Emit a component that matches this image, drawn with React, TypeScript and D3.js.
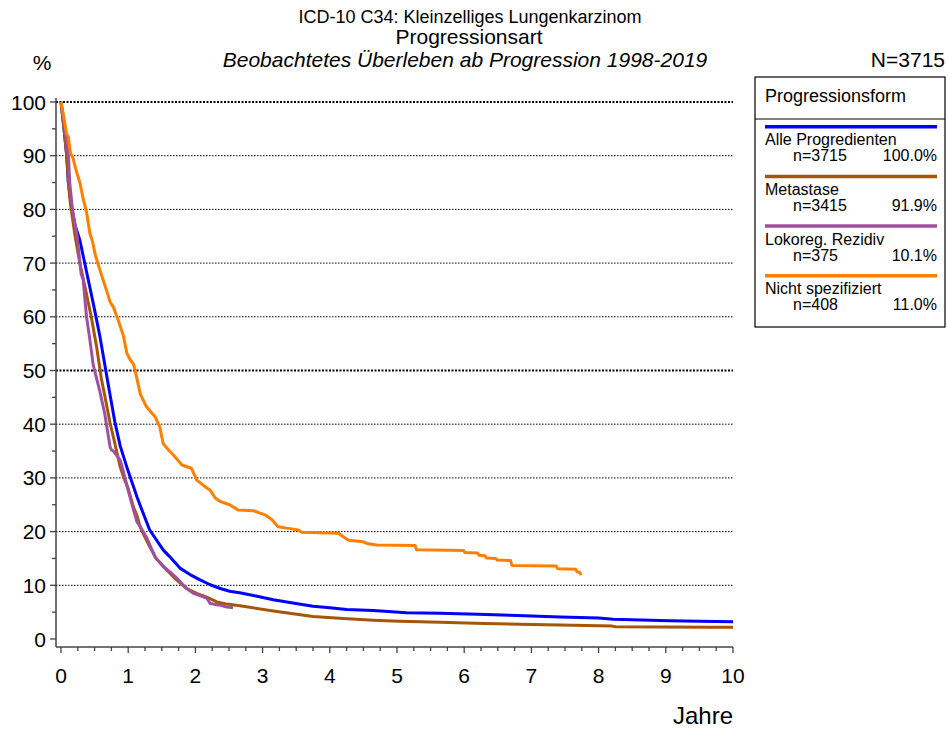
import React from "react";
import * as d3 from "d3";

// Kaplan-Meier style survival curves (years, percent)
const alleT = [0, 0.045, 0.085, 0.11, 0.15, 0.21, 0.28, 0.38, 0.48, 0.58, 0.68, 0.8, 0.88, 0.98, 1.13, 1.18, 1.32, 1.52, 1.62, 1.77, 1.92, 2.07, 2.22, 2.37, 2.51, 2.66, 2.9, 3.16, 3.45, 3.75, 4.0, 4.25, 4.65, 5.14, 5.64, 6.2, 6.68, 7.43, 8.0, 8.22, 9.06, 9.5, 10];
const alleS = [100, 95, 90, 85, 81, 77, 74.3, 68.4, 62.5, 56.3, 49, 40.5, 36, 32, 26.5, 24.8, 20.3, 16.6, 15.3, 13.2, 12.0, 11.0, 10.1, 9.4, 8.9, 8.6, 8.0, 7.3, 6.7, 6.1, 5.8, 5.5, 5.3, 4.9, 4.8, 4.6, 4.4, 4.1, 3.9, 3.7, 3.4, 3.3, 3.2];

const metaT = [0, 0.045, 0.085, 0.11, 0.14, 0.21, 0.28, 0.35, 0.45, 0.53, 0.6, 0.65, 0.73, 0.8, 0.88, 0.93, 1.0, 1.08, 1.13, 1.18, 1.22, 1.32, 1.42, 1.47, 1.57, 1.67, 1.72, 1.87, 2.02, 2.17, 2.32, 2.47, 2.66, 2.76, 3.11, 3.4, 3.75, 4.2, 4.65, 5.04, 5.64, 6.3, 7.0, 7.43, 8.2, 8.25, 9.66, 10];
const metaS = [100, 95, 90, 85, 81, 75, 70, 66, 60, 54.4, 48.5, 45.4, 40.2, 36.5, 32.1, 30.2, 28.0, 24.5, 23.0, 20.8, 19.7, 17.2, 14.9, 14.3, 12.9, 11.6, 11.0, 9.4, 8.5, 7.8, 6.9, 6.5, 6.2, 6.0, 5.3, 4.8, 4.2, 3.8, 3.5, 3.3, 3.1, 2.9, 2.7, 2.6, 2.4, 2.3, 2.2, 2.2];

const lokoT = [0, 0.06, 0.11, 0.13, 0.17, 0.24, 0.3, 0.33, 0.38, 0.43, 0.48, 0.53, 0.58, 0.65, 0.73, 0.75, 0.78, 0.88, 0.9, 1.0, 1.08, 1.13, 1.18, 1.27, 1.4, 1.52, 1.62, 1.72, 1.82, 1.87, 1.97, 2.17, 2.22, 2.37, 2.45, 2.56];
const lokoS = [100, 95, 90, 85, 80, 75, 68, 66.9, 60, 55.7, 51, 48.5, 46, 42, 35.8, 35.2, 35, 33.3, 32.5, 27.7, 24, 21.8, 20.9, 19.0, 15.3, 13.5, 12.5, 11.4, 10.0, 9.4, 8.5, 7.6, 6.6, 6.3, 6.0, 5.8];

const nichtT = [0, 0.03, 0.085, 0.11, 0.14, 0.18, 0.22, 0.28, 0.33, 0.38, 0.43, 0.47, 0.51, 0.58, 0.61, 0.67, 0.73, 0.78, 0.85, 0.93, 0.98, 1.03, 1.08, 1.13, 1.18, 1.27, 1.4, 1.47, 1.52, 1.6, 1.67, 1.8, 1.94, 2.02, 2.12, 2.22, 2.3, 2.37, 2.51, 2.64, 2.86, 2.95, 3.04, 3.14, 3.23, 3.38, 3.53, 3.58, 4.13, 4.2, 4.28, 4.5, 4.55, 4.7, 5.27, 5.29, 5.99, 6.01, 6.2, 6.22, 6.31, 6.33, 6.47, 6.49, 6.69, 6.71, 7.37, 7.39, 7.66, 7.68, 7.72, 7.74];
const nichtS = [100, 98, 94, 93.5, 90.5, 89.5, 87.5, 85, 82, 79.5, 75.5, 74, 71.5, 68.7, 67.5, 65.2, 62.8, 61.8, 59.4, 56.4, 53.2, 52, 51.2, 48.5, 45.6, 43.3, 41.4, 39.5, 36.4, 35.2, 34.3, 32.4, 31.8, 29.6, 28.6, 27.7, 26.2, 25.6, 25.0, 24.0, 23.9, 23.5, 23.1, 22.2, 20.9, 20.6, 20.3, 19.9, 19.7, 19.05, 18.4, 18.1, 17.8, 17.5, 17.4, 16.6, 16.5, 16.1, 16.0, 15.6, 15.5, 15.1, 15.0, 14.7, 14.6, 13.7, 13.6, 13.1, 13.0, 12.5, 12.4, 11.9];

const legendNames = ["Alle Progredienten", "Metastase", "Lokoreg. Rezidiv", "Nicht spezifiziert"];
const legendN = ["n=3715", "n=3415", "n=375", "n=408"];
const legendPct = ["100.0%", "91.9%", "10.1%", "11.0%"];
const colors = ["#0000ff", "#a5560a", "#a050a0", "#ff8000"];

const yearTicks = d3.range(0, 11, 1);
const yearMinor = d3.range(0, 10.01, 0.25);
const pctTicks = d3.range(0, 101, 10);
const pctMinor = d3.range(0, 101, 5);

const font = "'Liberation Sans', Arial, sans-serif";

const App = () => {
  const x = d3.scaleLinear().domain([0, 10]).range([61, 733]);
  const y = d3.scaleLinear().domain([0, 100]).range([639, 102]);
  const line = d3
    .line<[number, number]>()
    .x((d) => x(d[0]))
    .y((d) => y(d[1]));

  const series: [number[], number[]][] = [
    [alleT, alleS],
    [metaT, metaS],
    [lokoT, lokoS],
    [nichtT, nichtS],
  ];

  const axisY = 647;
  const axisX = 56;

  return (
    <svg
      width={948}
      height={729}
      style={{ position: "absolute", left: 0, top: 0, background: "#fff" }}
      fontFamily={font}
    >
      {/* titles */}
      <text x={470} y={23} fontSize={18} textAnchor="middle">
        ICD-10 C34: Kleinzelliges Lungenkarzinom
      </text>
      <text x={469} y={44} fontSize={21} textAnchor="middle">
        Progressionsart
      </text>
      <text x={465} y={67} fontSize={21} fontStyle="italic" textAnchor="middle">
        Beobachtetes Überleben ab Progression 1998-2019
      </text>
      <text x={42} y={70} fontSize={21} textAnchor="middle">
        %
      </text>
      <text x={945} y={67} fontSize={21} textAnchor="end">
        N=3715
      </text>

      {/* grid */}
      {pctTicks
        .filter((t) => t > 0)
        .map((t) => {
          const bold = t === 50 || t === 100;
          return (
            <line
              key={"g" + t}
              x1={axisX}
              x2={x(10)}
              y1={y(t)}
              y2={y(t)}
              stroke="#000"
              strokeWidth={bold ? 2 : 1}
              strokeDasharray={bold ? "2,1.5" : "1.5,1.5"}
            />
          );
        })}

      {/* axes */}
      <line x1={axisX} x2={axisX} y1={y(100) - 4} y2={axisY} stroke="#444" strokeWidth={1.5} />
      <line x1={axisX} x2={x(10)} y1={axisY} y2={axisY} stroke="#444" strokeWidth={1.5} />
      {pctMinor.map((t) => (
        <line
          key={"yt" + t}
          x1={axisX - (t % 10 === 0 ? 6 : 4)}
          x2={axisX}
          y1={y(t)}
          y2={y(t)}
          stroke="#444"
          strokeWidth={1.3}
        />
      ))}
      {pctTicks.map((t) => (
        <text key={"yl" + t} x={46} y={y(t)} dy="0.36em" fontSize={21} textAnchor="end">
          {t}
        </text>
      ))}
      {yearMinor.map((t) => (
        <line
          key={"xt" + t}
          x1={x(t)}
          x2={x(t)}
          y1={axisY}
          y2={axisY + (Number.isInteger(t) ? 6 : 4)}
          stroke="#444"
          strokeWidth={1.3}
        />
      ))}
      {yearTicks.map((t) => (
        <text key={"xl" + t} x={x(t)} y={683} fontSize={21} textAnchor="middle">
          {t}
        </text>
      ))}
      <text x={733} y={724} fontSize={24} textAnchor="end">
        Jahre
      </text>

      {/* curves */}
      {series.map(([ts, ss], i) => (
        <path
          key={"s" + i}
          d={line(ts.map((t, j) => [t, ss[j]] as [number, number])) || ""}
          fill="none"
          stroke={colors[i]}
          strokeWidth={3}
          strokeLinejoin="round"
        />
      ))}

      {/* legend */}
      <rect x={755} y={77} width={190} height={250} fill="#fff" stroke="#000" strokeWidth={1.2} />
      <text x={765} y={102} fontSize={18}>
        Progressionsform
      </text>
      <line x1={755} x2={945} y1={119} y2={119} stroke="#000" strokeWidth={1.2} />
      {legendNames.map((name, i) => {
        const ly = 126.7 + i * 49.7;
        return (
          <g key={"lg" + i}>
            <line x1={765} x2={937} y1={ly} y2={ly} stroke={colors[i]} strokeWidth={3.5} />
            <text x={765} y={ly + 18.5} fontSize={16}>
              {name}
            </text>
            <text x={793} y={ly + 34.5} fontSize={16}>
              {legendN[i]}
            </text>
            <text x={937} y={ly + 34.5} fontSize={16} textAnchor="end">
              {legendPct[i]}
            </text>
          </g>
        );
      })}
    </svg>
  );
};

export default App;
